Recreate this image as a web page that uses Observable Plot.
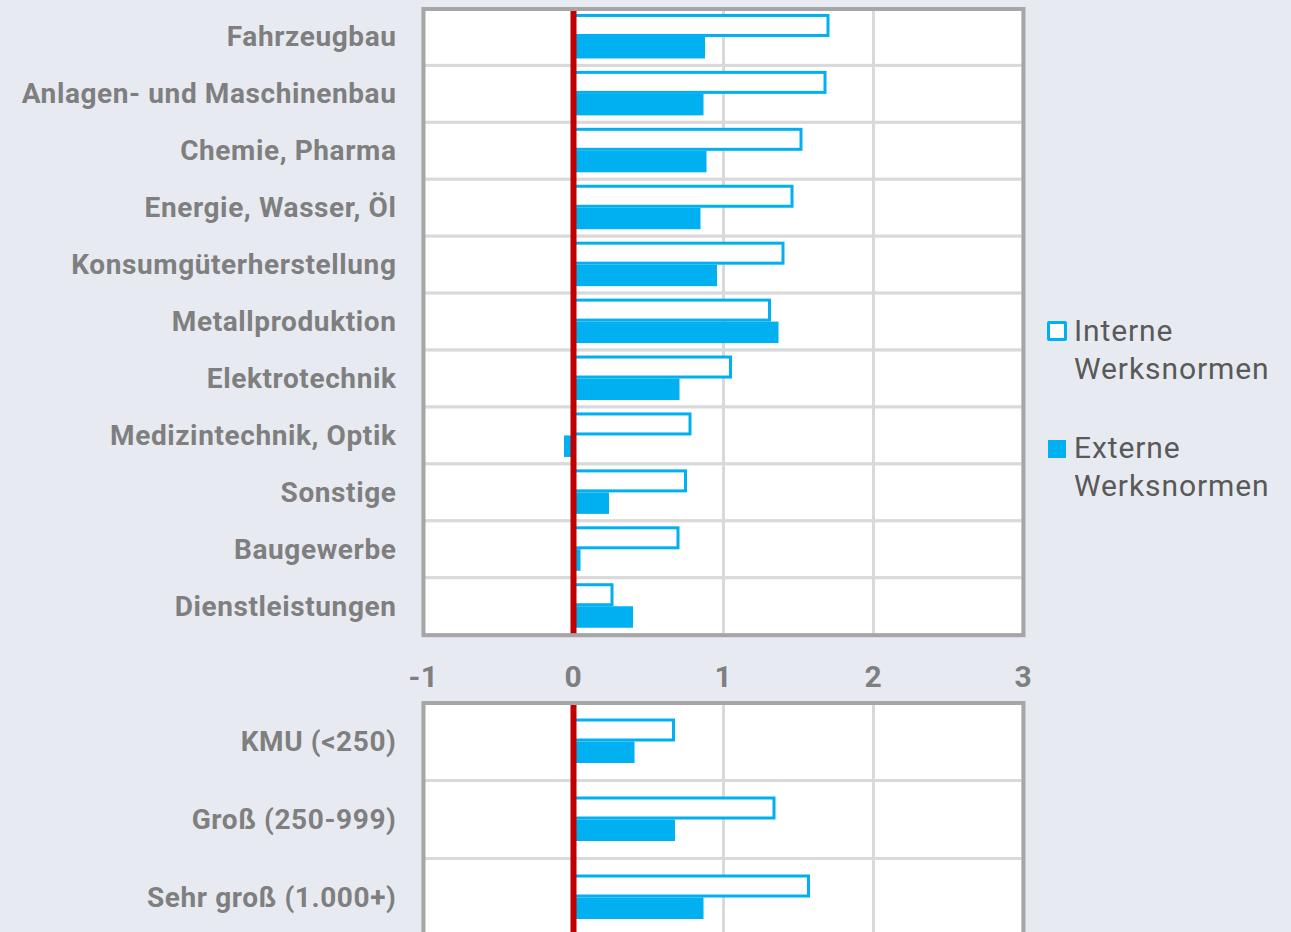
<!DOCTYPE html>
<html>
<head>
<meta charset="utf-8">
<script src="https://cdn.jsdelivr.net/npm/d3@7"></script>
<script src="https://cdn.jsdelivr.net/npm/@observablehq/plot@0.6"></script>
<style>
  html, body { margin: 0; padding: 0; background: #e7ebf1; }
  #root { position: relative; width: 1291px; height: 932px; overflow: hidden; background: #e7ebf1; font-family: Roboto, sans-serif; }
  #top, #bottom { position: absolute; left: 0; }
  #top { top: 0; }
  #bottom { top: 695px; }
  .lg-text { position: absolute; left: 1074px; font-family: Roboto, sans-serif; font-size: 30px; letter-spacing: 0.9px; line-height: 38px; color: #595959; white-space: nowrap; }
  .lg-box { position: absolute; box-sizing: border-box; }
</style>
</head>
<body>
<div id="root">
  <div id="top"></div>
  <div id="bottom"></div>
  <div class="lg-box" style="left:1047px; top:321px; width:20px; height:20px; border:3px solid #00b0f0; background:#fff; border-radius:2px;"></div>
  <div class="lg-text" style="top:312px;">Interne<br>Werksnormen</div>
  <div class="lg-box" style="left:1048px; top:440px; width:18px; height:18px; background:#00b0f0;"></div>
  <div class="lg-text" style="top:429px;">Externe<br>Werksnormen</div>
</div>
<script>
// ---- data ----
const categories = [
  "Fahrzeugbau",
  "Anlagen- und Maschinenbau",
  "Chemie, Pharma",
  "Energie, Wasser, Öl",
  "Konsumgüterherstellung",
  "Metallproduktion",
  "Elektrotechnik",
  "Medizintechnik, Optik",
  "Sonstige",
  "Baugewerbe",
  "Dienstleistungen"
];
const interne = [1.70, 1.68, 1.52, 1.46, 1.40, 1.31, 1.05, 0.78, 0.75, 0.70, 0.26];
const externe = [0.88, 0.87, 0.89, 0.85, 0.96, 1.37, 0.71, -0.06, 0.24, 0.05, 0.40];

const sizeCategories = ["KMU (<250)", "Groß (250-999)", "Sehr groß (1.000+)"];
const sizeInterne = [0.67, 1.34, 1.57];
const sizeExterne = [0.41, 0.68, 0.87];

const xTicks = [-1, 0, 1, 2, 3];
const seriesNames = ["Interne Werksnormen", "Externe Werksnormen"];

// ---- styles ----
const BLUE = "#00b0f0";
const RED = "#c00000";
const FRAME = "#a6a6a6";
const GRID = "#d9d9d9";
const LABEL = "#7f7f7f";

function panel({cats, intVals, extVals, width, height, marginTop, marginBottom, showX}) {
  const rows = cats.map((c, i) => ({cat: c, interne: intVals[i], externe: extVals[i]}));
  const bw = (height - marginTop - marginBottom) / cats.length;
  const barH = 21.5;
  const marks = [
    // white band cells with light separators
    Plot.barX(cats, {x1: () => -1, x2: () => 3, y: d => d, fill: "white", stroke: GRID, strokeWidth: 3}),
    Plot.ruleX([1, 2], {stroke: GRID, strokeWidth: 3}),
    // Interne (outlined)
    Plot.barX(rows, {
      x1: () => 0, x2: "interne", y: "cat",
      fill: "white", stroke: BLUE, strokeWidth: 3,
      insetTop: bw / 2 - barH, insetBottom: bw / 2 + 1.5,
      title: d => `${seriesNames[0]}: ${d.interne}`
    }),
    // Externe (filled)
    Plot.barX(rows, {
      x1: () => 0, x2: "externe", y: "cat",
      fill: BLUE,
      insetTop: bw / 2, insetBottom: bw / 2 - barH,
      title: d => `${seriesNames[1]}: ${d.externe}`
    }),
    Plot.ruleX([0], {stroke: RED, strokeWidth: 6}),
    Plot.frame({stroke: FRAME, strokeWidth: 4}),
    Plot.axisY({tickSize: 0, tickPadding: 27, fontSize: 28, fontWeight: "bold", fill: LABEL, label: null})
  ];
  if (showX) {
    marks.push(Plot.axisX(xTicks, {
      tickSize: 0, tickPadding: 30, fontSize: 30, fontWeight: "bold", fill: LABEL,
      tickFormat: d => String(d), label: null
    }));
  }
  return Plot.plot({
    width, height, marginTop, marginBottom,
    marginLeft: 423, marginRight: 268,
    x: {domain: [-1, 3], axis: showX ? undefined : null},
    y: {domain: cats, padding: 0, round: false},
    style: {fontFamily: "Roboto, sans-serif", fontSize: "28px", fontWeight: "bold", color: LABEL, background: "transparent", overflow: "visible", letterSpacing: "0.6px"},
    marks
  });
}

document.getElementById("top").append(panel({
  cats: categories, intVals: interne, extVals: externe,
  width: 1291, height: 695, marginTop: 8.5, marginBottom: 60.3, showX: true
}));
document.getElementById("bottom").append(panel({
  cats: sizeCategories, intVals: sizeInterne, extVals: sizeExterne,
  width: 1291, height: 245, marginTop: 7.5, marginBottom: 3.5, showX: false
}));
</script>
</body>
</html>
